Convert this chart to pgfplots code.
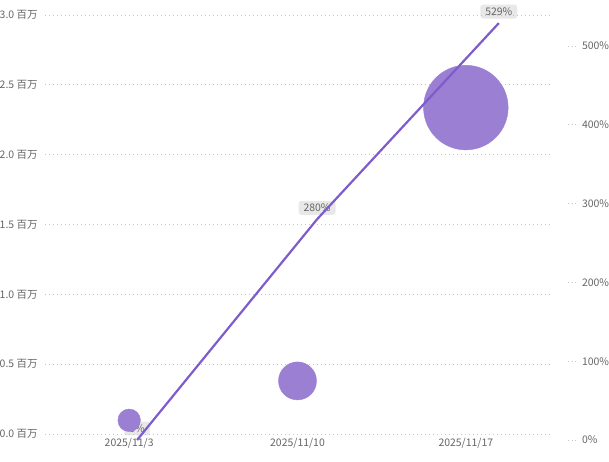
\documentclass[border=0pt]{standalone}
\usepackage{pgfplots}
\pgfplotsset{compat=1.18}
\usepackage{fontspec}
\setmainfont{Noto Sans CJK SC}
\definecolor{bub}{HTML}{9B7FD3}
\definecolor{ln}{HTML}{7E5CCB}
\definecolor{txt}{HTML}{666666}
\definecolor{grd}{HTML}{C4C4C4}
\definecolor{lbl}{HTML}{E8E8E8}
\begin{document}
\begin{tikzpicture}[x=1bp,y=1bp]
\path[use as bounding box] (0,0) rectangle (609,462);
\pgfplotsset{base/.style={anchor=south west, scale only axis,
  width=505bp, xmin=-0.5, xmax=2.5, clip=false,
  axis line style={draw=none}, tick style={draw=none},
  /pgf/number format/assume math mode=true,
  ticklabel style={font=\fontsize{10.5}{12}\selectfont, text=txt}}}
% right axis with data labels
\begin{axis}[base, at={(45bp,22bp)}, height=425bp, ymin=0, ymax=539.3,
  axis y line*=right, axis x line=none,
  ytick={0,100,200,300,400,500},
  yticklabel={\pgfmathprintnumber{\tick}\%},
  yticklabel style={anchor=west, xshift=2.5bp},
  major tick length=26bp, tick align=outside,
  ytick style={draw=grd, line width=0.8bp, dash pattern=on 1bp off 2.5bp on 1bp off 2.5bp on 1bp off 40bp}]
\addplot[draw=none, mark=none, nodes near coords, point meta=explicit symbolic,
  nodes near coords style={anchor=center, yshift=11.5bp, fill=lbl, rounded corners=3bp,
    inner xsep=5bp, inner ysep=3bp, text=txt, font=\fontsize{10.5}{12}\selectfont}]
  coordinates {(0.047,0) [0\%] (1.116,280) [280\%] (2.196,529) [529\%]};
\end{axis}
% left axis with bubbles
\begin{axis}[base, at={(45bp,28bp)}, height=419bp, ymin=0, ymax=3,
  ytick={0,0.5,1,1.5,2,2.5,3},
  yticklabel={\pgfmathprintnumber[fixed,fixed zerofill,precision=1]{\tick} 百万},
  yticklabel style={xshift=-4bp},
  ymajorgrids, grid style={draw=grd, line width=0.8bp, dash pattern=on 1bp off 3bp},
  xtick={0,1,2}, xticklabels={2025/11/3,2025/11/10,2025/11/17},
  xticklabel style={yshift=-1bp}]
\addplot[bub, only marks, mark=*, mark size=11.3bp, mark options={draw=bub, fill=bub}] coordinates {(0,0.098)};
\addplot[bub, only marks, mark=*, mark size=19bp, mark options={draw=bub, fill=bub}] coordinates {(1,0.38)};
\addplot[bub, only marks, mark=*, mark size=42.3bp, mark options={draw=bub, fill=bub}] coordinates {(2,2.337)};
\end{axis}
% line on the right scale
\begin{axis}[base, at={(45bp,22bp)}, height=425bp, ymin=0, ymax=539.3, hide axis]
\addplot[ln, line width=2.2bp, mark=none] coordinates {(0.047,0) (1.116,280) (2.196,529)};
\end{axis}
\end{tikzpicture}
\end{document}
